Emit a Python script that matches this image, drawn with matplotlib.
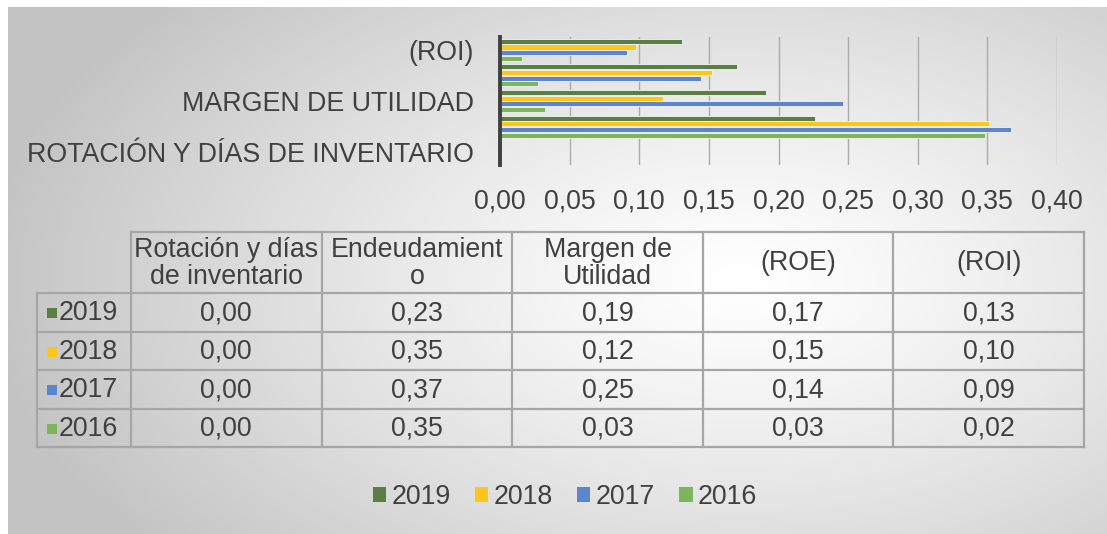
import numpy as np
import matplotlib
matplotlib.use('Agg')
import matplotlib.pyplot as plt
from matplotlib.patches import Rectangle, Patch

# ---------------- data ----------------
categories = ['ROTACIÓN Y DÍAS DE INVENTARIO', 'ENDEUDAMIENTO', 'MARGEN DE UTILIDAD', '(ROE)', '(ROI)']
table_headers = ['Rotación y días\nde inventario', 'Endeudamient\no', 'Margen de\nUtilidad', '(ROE)', '(ROI)']
years = ['2019', '2018', '2017', '2016']
v2019 = [0.000, 0.226, 0.191, 0.170, 0.131]
v2018 = [0.000, 0.351, 0.117, 0.152, 0.098]
v2017 = [0.000, 0.367, 0.246, 0.144, 0.091]
v2016 = [0.000, 0.348, 0.032, 0.027, 0.016]
series = [v2019, v2018, v2017, v2016]
colors = ['#5A7E44', '#FFC51A', '#5B86CF', '#7DB55A']
xticks = [0.00, 0.05, 0.10, 0.15, 0.20, 0.25, 0.30, 0.35, 0.40]

W, H = 1107, 534
TXT = '#404040'
FS = 19.3
plt.rcParams['font.family'] = ['Liberation Sans', 'DejaVu Sans']

fig = plt.figure(figsize=(W / 100, H / 100), dpi=100, facecolor='white')

# ---------------- background gradient ----------------
bg = fig.add_axes([0, 0, 1, 1], zorder=-10)
yy, xx = np.mgrid[0:H, 0:W]
d = np.sqrt(((xx - 740) / 760.0) ** 2 + ((yy - 280) / 430.0) ** 2)
d = np.clip(d, 0, 1)
g = 1.0 - 0.235 * d ** 1.25
img = np.dstack([g, g, g])
img[:7, :, :] = 1.0
img[:, :8, :] = 1.0
bg.imshow(img, extent=[0, W, H, 0], aspect='auto', interpolation='bilinear')
bg.set_xlim(0, W)
bg.set_ylim(H, 0)
bg.axis('off')

# ---------------- bar chart ----------------
ax = fig.add_axes([500 / W, 1 - 165 / H, 557 / W, 128 / H])
ax.patch.set_alpha(0)
y = np.arange(len(categories))
step = 0.222
hgt = 0.2
n = len(series)
for i, (vals, col) in enumerate(zip(series, colors)):
    off = (n - 1 - i - (n - 1) / 2) * step
    ax.barh(y + off, vals, height=hgt, color=col, edgecolor='#f4f4f4', linewidth=0.6, zorder=3)
ax.set_xlim(0, 0.40)
ax.set_ylim(-0.5, len(categories) - 0.5)
ax.set_xticks(xticks)
ax.set_xticklabels([f'{t:.2f}'.replace('.', ',') for t in xticks], fontsize=FS, color=TXT)
ax.set_yticks(y[::2])
ax.set_yticklabels([categories[i] for i in y[::2]], fontsize=FS, color=TXT)
ax.tick_params(axis='both', length=0)
ax.tick_params(axis='x', pad=17)
ax.tick_params(axis='y', pad=19)
ax.grid(axis='x', color='#ababab', linewidth=1.0, zorder=0)
for s in ['top', 'right', 'bottom']:
    ax.spines[s].set_visible(False)
ax.spines['left'].set_color('#404040')
ax.spines['left'].set_linewidth(2.8)
ax.spines['left'].set_zorder(4)

# ---------------- data table ----------------
tax = fig.add_axes([0, 0, 1, 1], zorder=5)
tax.set_xlim(0, W)
tax.set_ylim(H, 0)
tax.axis('off')
tax.patch.set_alpha(0)

x_left, x_first = 37, 131
col_w = (1084 - 131) / 5.0
col_x = [x_first + k * col_w for k in range(6)]
y_top, y_head = 232, 293
row_h = (447 - 293) / 4.0
row_y = [y_head + k * row_h for k in range(5)]
LC = '#a6a6a6'
LW = 1.6

tax.plot([x_first, col_x[-1]], [y_top, y_top], color=LC, lw=LW)
for cx in col_x:
    tax.plot([cx, cx], [y_top, row_y[-1]], color=LC, lw=LW)
for ry in row_y:
    tax.plot([x_left, col_x[-1]], [ry, ry], color=LC, lw=LW)
tax.plot([x_left, x_left], [y_head, row_y[-1]], color=LC, lw=LW)

for k, hdr in enumerate(table_headers):
    tax.text((col_x[k] + col_x[k + 1]) / 2, (y_top + y_head) / 2 + 1, hdr, ha='center', va='center',
             fontsize=FS, color=TXT, linespacing=1.08)

for r, (yr, vals, col) in enumerate(zip(years, series, colors)):
    cy = (row_y[r] + row_y[r + 1]) / 2
    tax.add_patch(Rectangle((47, cy - 4), 10, 10, facecolor=col, edgecolor='none'))
    tax.text(59, cy + 1, yr, ha='left', va='center', fontsize=FS, color=TXT)
    for k, v in enumerate(vals):
        tax.text((col_x[k] + col_x[k + 1]) / 2, cy + 1, f'{v:.2f}'.replace('.', ','), ha='center',
                 va='center', fontsize=FS, color=TXT)

# ---------------- legend ----------------
handles = [Patch(facecolor=c, edgecolor='none', label=yr) for yr, c in zip(years, colors)]
leg = fig.legend(handles=handles, loc='center', bbox_to_anchor=(565 / W, 1 - 497 / H), ncol=4,
                 frameon=False, fontsize=FS, handlelength=0.5, handleheight=0.5, handletextpad=0.2,
                 columnspacing=0.9)
for t in leg.get_texts():
    t.set_color(TXT)

fig.savefig('out.png', dpi=100)
